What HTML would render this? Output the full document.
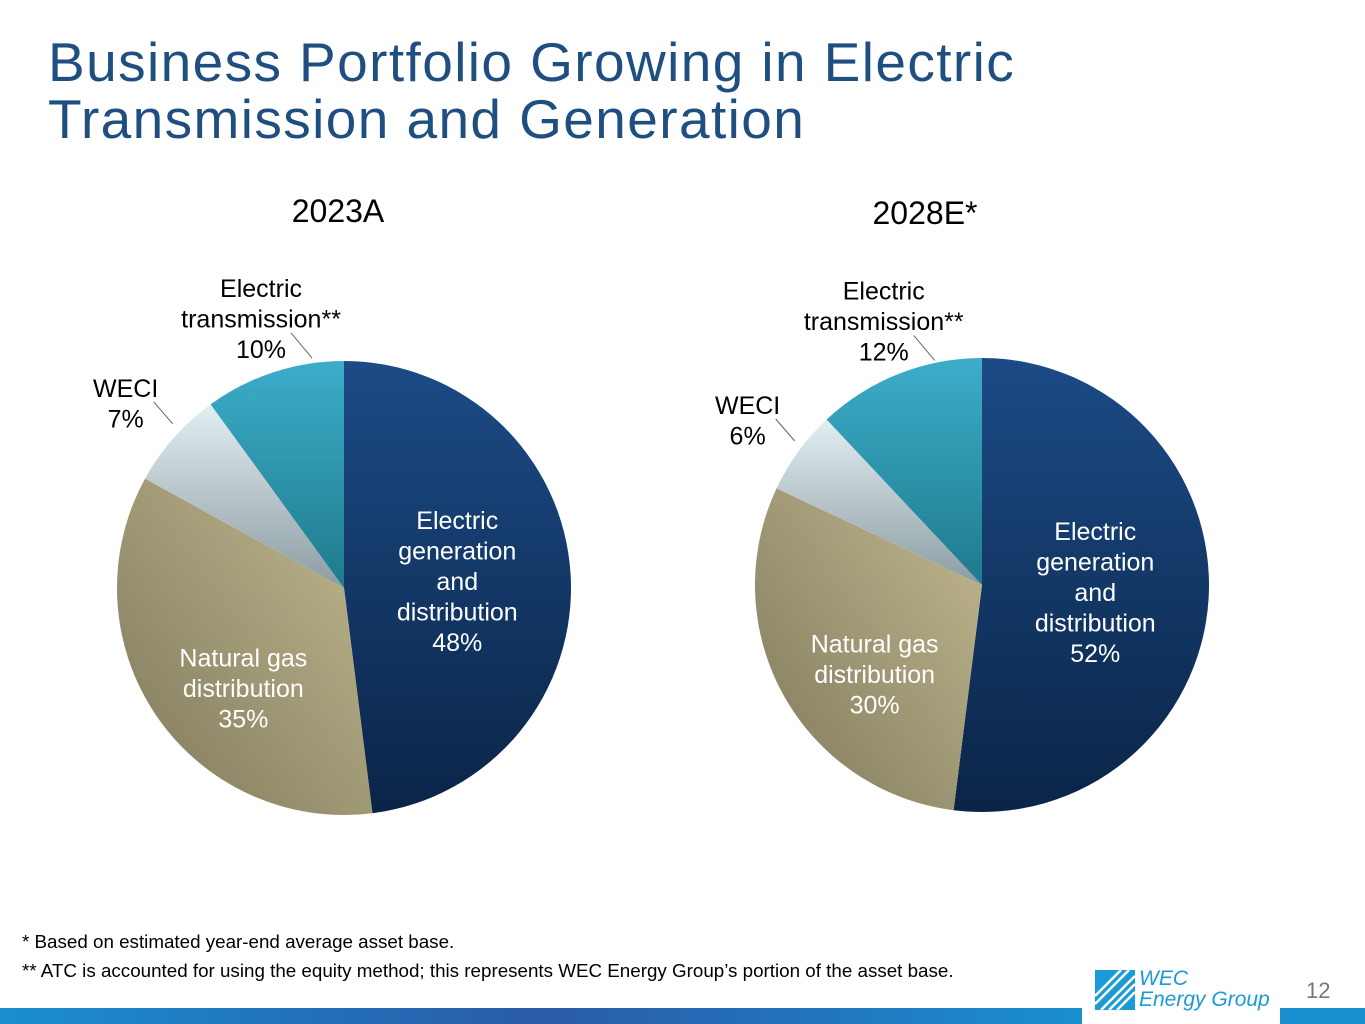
<!DOCTYPE html>
<html><head><meta charset="utf-8"><style>
body{margin:0;width:1365px;height:1024px;overflow:hidden;background:#fff;font-family:"Liberation Sans",sans-serif;position:relative}
.t{position:absolute;left:48px;top:34px;font-size:55px;line-height:57px;color:#1f4e80;letter-spacing:1.4px}
.fn{position:absolute;left:22px;font-size:18.8px;color:#000;white-space:nowrap}
</style></head><body>
<div class="t">Business Portfolio Growing in Electric<br>Transmission and Generation</div>
<svg id="chart" width="1365" height="1024" style="position:absolute;left:0;top:0">
<defs>
<linearGradient id="gE" x1="0" y1="0" x2="0" y2="1"><stop offset="0" stop-color="#1c4b86"/><stop offset="1" stop-color="#0a2447"/></linearGradient>
<linearGradient id="gG" x1="1" y1="0" x2="0" y2="1"><stop offset="0" stop-color="#c2b98f"/><stop offset="1" stop-color="#7e785c"/></linearGradient>
<linearGradient id="gW" x1="0" y1="0" x2="0" y2="1"><stop offset="0" stop-color="#e2eef2"/><stop offset="1" stop-color="#8c9ca2"/></linearGradient>
<linearGradient id="gT" x1="0" y1="0" x2="0" y2="1"><stop offset="0" stop-color="#3cadca"/><stop offset="1" stop-color="#1f7a8c"/></linearGradient>
</defs>
</svg>
<div class="fn" style="top:931px">* Based on estimated year-end average asset base.</div>
<div class="fn" style="top:960px">** ATC is accounted for using the equity method; this represents WEC Energy Group’s portion of the asset base.</div>
<div style="position:absolute;left:1095px;top:970px;width:180px;height:44px;white-space:nowrap">
<svg width="40" height="40" style="position:absolute;left:0;top:0"><rect width="40" height="40" fill="#1a9ad6"/><path d="M6 40 L40 6 M14 40 L40 14 M22 40 L40 22 M0 34 L34 0 M0 26 L26 0" stroke="#fff" stroke-width="2.5"/></svg>
<div style="position:absolute;left:44px;top:-2px;color:#1a9ad6;font-style:italic;font-size:21px;line-height:21px">WEC<br>Energy Group</div>
</div>
<div style="position:absolute;left:1306px;top:978px;font-size:22px;color:#777">12</div>
<div style="position:absolute;left:0;top:1008px;width:1082px;height:16px;background:linear-gradient(90deg,#1a8fd0,#2a5aa8 50%,#1a8fd0)"></div>
<div style="position:absolute;left:1280px;top:1008px;width:85px;height:16px;background:#1a8fd0"></div>
<script>
const categories=["Electric generation and distribution","Natural gas distribution","WECI","Electric transmission**"];
const values2023=[48,35,7,10];
const values2028=[52,30,6,12];
const titles=["2023A","2028E*"];
const fills=["url(#gE)","url(#gG)","url(#gW)","url(#gT)"];
const svg=document.getElementById('chart');
const NS="http://www.w3.org/2000/svg";
function pt(cx,cy,r,f){const a=f*2*Math.PI;return [cx+r*Math.sin(a),cy-r*Math.cos(a)];}
function txt(x,y,lines,col,size,name){const t=document.createElementNS(NS,'text');t.setAttribute('x',x);t.setAttribute('y',y);t.setAttribute('text-anchor','middle');t.setAttribute('font-size',size);t.setAttribute('fill',col);t.setAttribute('font-family','Liberation Sans, sans-serif');


lines.forEach((l,i)=>{const s=document.createElementNS(NS,'tspan');s.setAttribute('x',x);s.setAttribute('dy',i?30.5:0);s.textContent=l;t.appendChild(s);});svg.appendChild(t);}
function line(x1,y1,x2,y2){const l=document.createElementNS(NS,'line');l.setAttribute('x1',x1);l.setAttribute('y1',y1);l.setAttribute('x2',x2);l.setAttribute('y2',y2);l.setAttribute('stroke','#666');


svg.appendChild(l);}
function pie(vals,cx,cy,r,title,tx,ty,key){
 txt(tx,ty,[title],'#000',32,'pie-title-'+key);
 const tot=vals.reduce((a,b)=>a+b,0);let c=0;const mids=[];
 vals.forEach((v,i)=>{const f0=c/tot,f1=(c+v)/tot;c+=v;const[a,b]=pt(cx,cy,r,f0),[d,e]=pt(cx,cy,r,f1);
 const p=document.createElementNS(NS,'path');p.setAttribute('d',`M${cx},${cy}L${a},${b}A${r},${r} 0 ${f1-f0>0.5?1:0} 1 ${d},${e}Z`);p.setAttribute('fill',fills[i]);
 
 
 svg.appendChild(p);mids.push((f0+f1)/2);});
 let [x,y]=pt(cx,cy,r*0.5,mids[0]);txt(x,y-52,["Electric","generation","and","distribution",vals[0]+"%"],'#fff',25,'label-electric-'+key);
 [x,y]=pt(cx,cy,r*0.6,mids[1]);txt(x+12,y+2,["Natural gas","distribution",vals[1]+"%"],'#fff',25,'label-gas-'+key);
 const[ox,oy]=pt(cx,cy,r*1.2,mids[2]);line(ox+14,oy-6,ox+33,oy+16);txt(ox-14,oy-11,["WECI",vals[2]+"%"],'#000',25,'label-weci-'+key);
 const[px,py]=pt(cx,cy,r*1.14,mids[3]);line(px+27,py-9,px+48,py+16);txt(px-3,py-45,["Electric","transmission**",vals[3]+"%"],'#000',25,'label-transmission-'+key);
}
pie(values2023,344,588,227,titles[0],338,222,'2023');
pie(values2028,982,585,227,titles[1],925,224,'2028');
</script>
</body></html>
